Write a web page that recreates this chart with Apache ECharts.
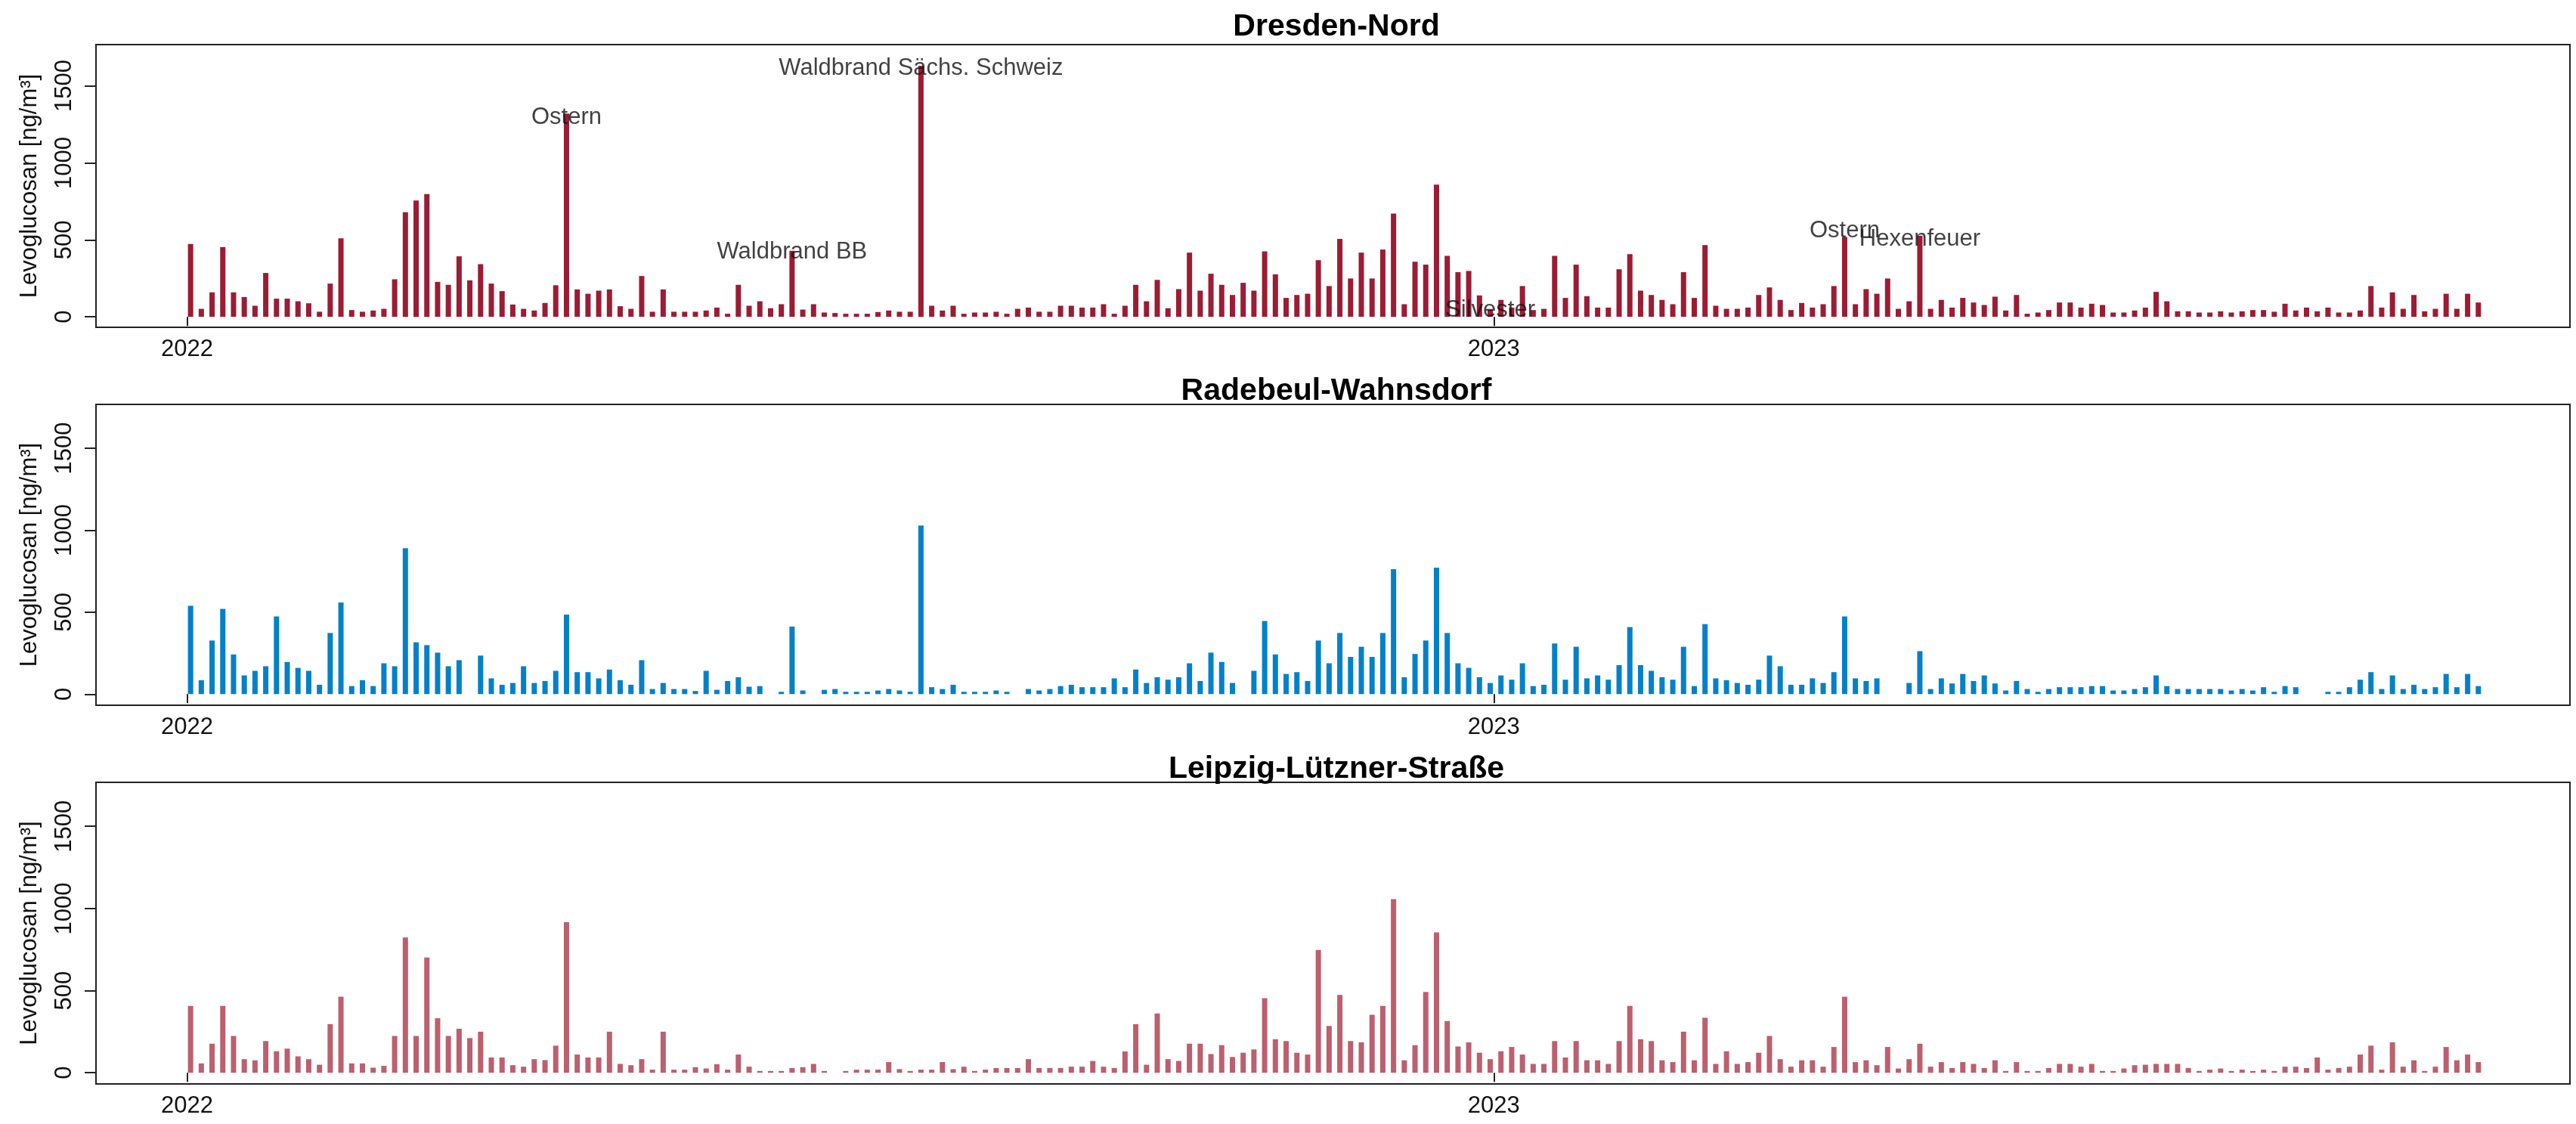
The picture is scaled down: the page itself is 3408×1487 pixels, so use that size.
<!DOCTYPE html>
<html>
<head>
<meta charset="utf-8">
<script src="https://cdn.jsdelivr.net/npm/echarts@6/dist/echarts.min.js"></script>
<style>
  html, body { margin: 0; padding: 0; background: #fff; }
  #chart { width: 3408px; height: 1487px; }
</style>
</head>
<body>
<div id="chart"></div>
<script>
// sampling: every 3rd day starting 2022-01-02
var startDate = Date.UTC(2022, 0, 2);
var stepDays = 3;

var stationNames = ['Dresden-Nord', 'Radebeul-Wahnsdorf', 'Leipzig-Lützner-Straße'];
var yearTicks = [Date.UTC(2022, 0, 1), Date.UTC(2023, 0, 1)];
var valueTicks = [0, 500, 1000, 1500];

var dresdenNord = [
  473,52,159,453,159,129,72,285,118,118,
  101,88,33,216,510,44,33,41,52,244,
  679,756,797,227,208,393,237,342,216,167,
  80,52,41,90,205,1320,178,150,170,178,
  69,52,265,33,178,33,33,33,41,60,
  20,208,72,101,56,82,429,47,82,28,
  25,20,20,20,31,41,33,33,1631,72,
  41,72,20,28,28,33,20,52,60,33,
  33,72,72,60,60,82,20,72,208,101,
  240,56,180,417,170,280,208,142,221,170,
  425,276,123,142,150,368,200,506,249,417,
  249,437,671,82,358,339,859,396,290,298,
  139,45,110,60,200,44,52,396,123,339,
  134,60,60,309,407,170,142,110,82,290,
  123,466,72,52,52,60,142,191,110,44,
  90,60,82,200,519,82,180,150,249,52,
  101,527,52,110,60,123,93,77,131,41,
  142,20,28,44,93,93,60,85,77,28,
  28,41,60,162,101,36,36,28,28,36,
  28,36,44,44,33,85,41,60,36,60,
  28,28,41,200,60,159,52,142,36,52,
  150,52,150,93
];

var radebeulWahnsdorf = [
  539,85,327,520,242,114,142,170,474,196,
  160,142,57,373,559,49,85,49,188,170,
  890,316,299,253,170,207,null,235,96,57,
  68,170,68,80,142,485,134,134,96,150,
  85,57,207,31,68,31,31,19,142,26,
  80,103,45,49,null,14,412,22,null,26,
  31,14,14,14,22,31,22,14,1029,42,
  31,57,14,14,14,22,14,null,31,22,
  31,49,57,42,42,42,96,42,150,68,
  103,88,103,188,80,253,196,68,null,142,
  446,242,123,134,80,327,188,373,227,289,
  227,373,762,103,245,327,772,373,188,160,
  103,68,114,88,188,49,57,309,88,289,
  96,114,88,177,409,177,142,103,88,289,
  49,427,96,85,68,57,88,235,170,57,
  57,96,68,134,474,96,80,96,null,null,
  68,262,31,96,65,123,80,114,65,22,
  80,31,14,31,42,42,42,49,49,22,
  22,31,42,114,49,31,31,31,31,31,
  22,31,22,42,14,49,42,null,null,14,
  14,42,88,134,31,114,31,57,31,42,
  123,42,123,49
];

var leipzigLuetzner = [
  407,57,177,407,224,83,76,193,131,147,
  100,83,49,296,463,57,57,31,42,224,
  824,224,702,332,224,268,211,250,93,93,
  46,37,83,77,165,917,111,93,93,250,
  54,46,83,19,250,19,19,34,26,52,
  19,111,37,11,11,11,29,34,54,11,
  null,11,19,19,19,65,22,11,19,19,
  65,22,37,11,19,29,29,29,83,29,
  29,29,37,37,72,37,29,130,296,49,
  361,83,72,177,177,114,168,96,122,142,
  454,204,193,122,111,748,285,474,193,185,
  353,407,1057,76,168,492,855,315,160,185,
  122,83,131,157,111,54,54,193,93,193,
  76,76,54,193,407,204,193,76,65,250,
  76,335,54,131,54,65,122,224,83,37,
  76,76,37,157,463,65,76,46,157,26,
  83,177,37,65,29,65,54,29,76,11,
  65,11,11,29,54,54,37,54,11,11,
  26,46,49,54,54,54,29,11,19,26,
  11,19,11,19,11,37,37,29,93,19,
  29,37,111,165,19,185,37,76,11,37,
  157,76,111,65
];

// event labels in the Dresden-Nord panel
var eventDates = ['2022-04-17', '2022-06-19', '2022-07-25', '2022-12-31', '2023-04-09', '2023-04-30'];
var eventLevels = [1296, 420, 1615, 44, 560, 502];
var eventTexts = ['Ostern', 'Waldbrand BB', 'Waldbrand Sächs. Schweiz', 'Silvester', 'Ostern', 'Hexenfeuer'];

var colors = ['#9b1c33', '#0281c8', '#bc5f6e'];
var allValues = [dresdenNord, radebeulWahnsdorf, leipzigLuetzner];

var DAY = 86400000;
var dates = dresdenNord.map(function (v, i) { return startDate + i * stepDays * DAY; });

var FONT = 'Liberation Sans, Arial, sans-serif';
var grids = [
  { left: 127, right: 8, top: 59, height: 374 },
  { left: 127, right: 8, top: 535, height: 398 },
  { left: 127, right: 8, top: 1035, height: 399 }
];
var titleTops = [10, 492, 992];

var option = {
  animation: false,
  backgroundColor: '#fff',
  title: [],
  grid: [],
  xAxis: [],
  yAxis: [],
  series: []
};

for (var k = 0; k < 3; k++) {
  option.grid.push(Object.assign({
    show: true, borderColor: '#222', borderWidth: 2, backgroundColor: 'transparent'
  }, grids[k]));
  option.title.push({
    text: stationNames[k],
    left: 1763, top: titleTops[k], textAlign: 'center',
    textStyle: { fontFamily: FONT, fontSize: 41, fontWeight: 'bold', color: '#000', lineHeight: 41 }
  });
  option.xAxis.push({
    gridIndex: k, type: 'value',
    min: Date.UTC(2021, 11, 6, 14), max: Date.UTC(2023, 9, 28, 14),
    axisLine: { show: false },
    splitLine: { show: false },
    axisTick: { show: true, customValues: yearTicks, length: 12, lineStyle: { color: '#222', width: 2 } },
    axisLabel: {
      customValues: yearTicks, margin: 14, fontFamily: FONT, fontSize: 31, color: '#111',
      formatter: function (v) { return String(new Date(v).getUTCFullYear()); }
    }
  });
  option.yAxis.push({
    gridIndex: k, type: 'value', min: -68, max: 1768,
    name: 'Levoglucosan [ng/m³]', nameLocation: 'middle', nameGap: 72,
    nameTextStyle: { fontFamily: FONT, fontSize: 31, color: '#111' },
    axisLine: { show: false },
    splitLine: { show: false },
    axisTick: { show: true, customValues: valueTicks, length: 15, lineStyle: { color: '#222', width: 2 } },
    axisLabel: {
      customValues: valueTicks, rotate: 90, margin: 26, fontFamily: FONT, fontSize: 31, color: '#111',
      formatter: function (v) { return String(v); }
    }
  });
  option.series.push({
    type: 'bar', xAxisIndex: k, yAxisIndex: k,
    barWidth: 7,
    itemStyle: { color: colors[k] },
    data: allValues[k].map(function (v, i) { return [dates[i], v]; })
  });
}

option.series.push({
  type: 'scatter', xAxisIndex: 0, yAxisIndex: 0, z: 10,
  symbolSize: 1,
  itemStyle: { color: 'rgba(0,0,0,0)' },
  label: {
    show: true, position: 'inside', fontFamily: FONT, fontSize: 31, color: '#111',
    formatter: function (p) { return p.data[2]; }
  },
  data: eventDates.map(function (d, i) {
    var p = d.split('-');
    return [Date.UTC(+p[0], +p[1] - 1, +p[2]), eventLevels[i], eventTexts[i]];
  })
});

var chart = echarts.init(document.getElementById('chart'));
chart.setOption(option);
window.addEventListener('resize', function () { chart.resize(); });
</script>
</body>
</html>
